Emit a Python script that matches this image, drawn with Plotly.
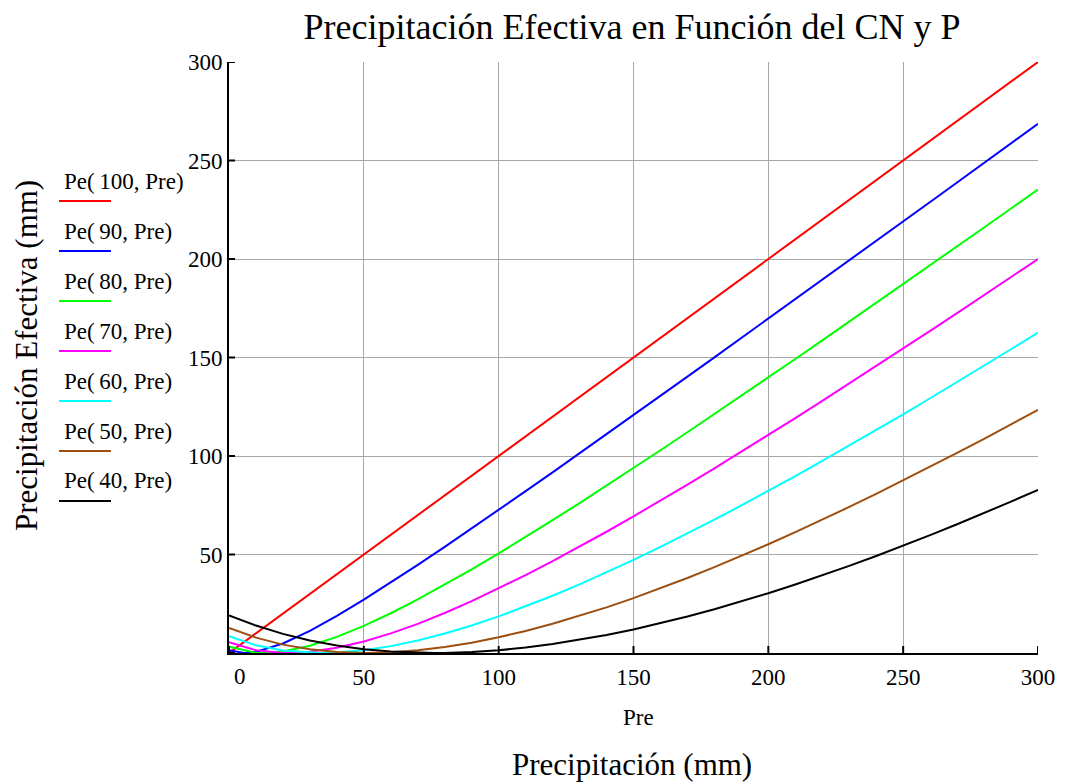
import plotly.graph_objects as go

# Precipitation (mm) sample points shared by every curve
precip = [0, 10, 20, 30, 40, 50, 60, 70, 80, 90, 100, 110, 120, 130, 140, 150,
          160, 170, 180, 190, 200, 210, 220, 230, 240, 250, 260, 270, 280, 290, 300]

# Effective precipitation (mm) for each curve number
pe_cn100 = [0, 10, 20, 30, 40, 50, 60, 70, 80, 90, 100, 110, 120, 130, 140, 150,
            160, 170, 180, 190, 200, 210, 220, 230, 240, 250, 260, 270, 280, 290, 300]
pe_cn90 = [1.41, 0.58, 4.84, 11.28, 18.86, 27.11, 35.78, 44.74, 53.90, 63.21, 72.63,
           82.14, 91.72, 101.35, 111.03, 120.75, 130.50, 140.27, 150.07, 159.88, 169.71,
           179.56, 189.42, 199.29, 209.17, 219.06, 228.95, 238.86, 248.77, 258.68, 268.60]
pe_cn80 = [3.18, 0.12, 0.75, 3.70, 8.21, 13.80, 20.19, 27.18, 34.63, 42.44, 50.54,
           58.88, 67.41, 76.10, 84.93, 93.88, 102.93, 112.06, 121.27, 130.55, 139.88,
           149.26, 158.69, 168.16, 177.67, 187.21, 196.77, 206.37, 215.99, 225.63, 235.30]
pe_cn70 = [5.44, 1.43, 0.03, 0.58, 2.62, 5.81, 9.94, 14.81, 20.29, 26.29, 32.71,
           39.50, 46.59, 53.96, 61.55, 69.35, 77.33, 85.47, 93.74, 102.14, 110.65,
           119.26, 127.96, 136.74, 145.60, 154.53, 163.51, 172.56, 181.65, 190.80, 199.98]
pe_cn60 = [8.47, 3.92, 1.24, 0.09, 0.21, 1.40, 3.49, 6.35, 9.88, 13.98, 18.57,
           23.61, 29.04, 34.81, 40.89, 47.25, 53.85, 60.67, 67.69, 74.90, 82.27,
           89.80, 97.47, 105.26, 113.17, 121.19, 129.31, 137.52, 145.81, 154.19, 162.65]
pe_cn50 = [12.70, 7.81, 4.25, 1.86, 0.48, 0.00, 0.32, 1.35, 3.01, 5.24, 7.98,
           11.19, 14.82, 18.83, 23.18, 27.86, 32.83, 38.07, 43.56, 49.28, 55.21,
           61.34, 67.65, 74.13, 80.77, 87.56, 94.48, 101.54, 108.72, 116.01, 123.41]
pe_cn40 = [19.05, 13.92, 9.72, 6.38, 3.80, 1.94, 0.72, 0.10, 0.04, 0.48, 1.40,
           2.75, 4.52, 6.66, 9.15, 11.98, 15.11, 18.53, 22.22, 26.17, 30.36,
           34.78, 39.40, 44.23, 49.25, 54.45, 59.81, 65.34, 71.02, 76.85, 82.82]

# Precipitation at which each curve touches zero (initial abstraction)
zero_at = {90: 5.64, 80: 12.7, 70: 21.77, 60: 33.87, 50: 50.8, 40: 76.2}

curve_numbers = [100, 90, 80, 70, 60, 50, 40]
series = [pe_cn100, pe_cn90, pe_cn80, pe_cn70, pe_cn60, pe_cn50, pe_cn40]
colors = ["#ff0000", "#0000ff", "#00ff00", "#ff00ff", "#00ffff", "#9c4f10", "#000000"]
legend_labels = ["Pe(\u2009100, Pre)", "Pe(\u200990, Pre)", "Pe(\u200980, Pre)",
                 "Pe(\u200970, Pre)", "Pe(\u200960, Pre)", "Pe(\u200950, Pre)",
                 "Pe(\u200940, Pre)"]

x_ticks = [0, 50, 100, 150, 200, 250, 300]
y_ticks = [0, 50, 100, 150, 200, 250, 300]

SERIF = "Times New Roman, Liberation Serif, serif"
TICK_SIZE = 23

# Plot-area geometry in pixels
W, H = 1067, 782
L, R, T, B = 229, 29, 62, 129
PW, PH = W - L - R, H - T - B


def px(xp):
    return (xp - L) / PW


def py(yp):
    return (H - B - yp) / PH


fig = go.Figure()

for cn, ys, col, lab in zip(curve_numbers, series, colors, legend_labels):
    xs, yv = list(precip), list(ys)
    if cn in zero_at:
        z = zero_at[cn]
        i = next(k for k, v in enumerate(xs) if v > z)
        xs.insert(i, z)
        yv.insert(i, 0.0)
    fig.add_trace(go.Scatter(x=xs, y=yv, mode="lines", name=lab,
                             line=dict(color=col, width=2), showlegend=False))

annotations = []
shapes = []

# Tick marks crossing both axes
for v in y_ticks:
    shapes.append(dict(type="line", xref="x", yref="y", xsizemode="pixel", xanchor=0,
                       x0=-6, x1=6, y0=v, y1=v, line=dict(color="black", width=2)))
for v in x_ticks:
    shapes.append(dict(type="line", xref="x", yref="y", ysizemode="pixel", yanchor=0,
                       y0=-7, y1=7, x0=v, x1=v, line=dict(color="black", width=2)))

# Legend drawn as label text above a short line sample
for k, (lab, col) in enumerate(zip(legend_labels, colors)):
    ly = 201 + 50 * k
    shapes.append(dict(type="line", xref="paper", yref="paper",
                       x0=px(59), x1=px(111), y0=py(ly), y1=py(ly),
                       line=dict(color=col, width=2)))
    annotations.append(dict(text=lab, xref="paper", yref="paper",
                            x=px(62), y=py(ly - 20), xanchor="left", yanchor="middle",
                            showarrow=False, font=dict(family=SERIF, size=23, color="black")))

# Origin label on the x axis
annotations.append(dict(text="0", xref="x", yref="paper", x=0, y=py(677),
                        xshift=11, xanchor="center", yanchor="middle", showarrow=False,
                        font=dict(family=SERIF, size=TICK_SIZE, color="black")))

# Axis captions
annotations.append(dict(text="Pre", xref="paper", yref="paper", x=px(638), y=py(717),
                        xanchor="center", yanchor="middle", showarrow=False,
                        font=dict(family=SERIF, size=23, color="black")))
annotations.append(dict(text="Precipitación (mm)", xref="paper", yref="paper",
                        x=px(632), y=py(764), xanchor="center", yanchor="middle",
                        showarrow=False, font=dict(family=SERIF, size=31, color="black")))
annotations.append(dict(text="Precipitación Efectiva (mm)", xref="paper", yref="paper",
                        x=px(26), y=py(356), textangle=-90, xanchor="center",
                        yanchor="middle", showarrow=False,
                        font=dict(family=SERIF, size=31, color="black")))

fig.update_layout(
    width=W, height=H,
    margin=dict(l=L, r=R, t=T, b=B),
    paper_bgcolor="white", plot_bgcolor="white",
    title=dict(text="Precipitación Efectiva en Función del CN y P",
               x=632 / W, y=1 - 26 / H, xref="container", yref="container",
               xanchor="center", yanchor="middle",
               font=dict(family=SERIF, size=36, color="black")),
    annotations=annotations,
    shapes=shapes,
)

fig.update_xaxes(range=[0, 300], tickvals=x_ticks,
                 ticktext=["" if v == 0 else str(v) for v in x_ticks],
                 showgrid=True, gridcolor="#a8a8a8", gridwidth=1, zeroline=False,
                 showline=True, linecolor="black", linewidth=2,
                 ticks="outside", ticklen=2, tickcolor="rgba(0,0,0,0)",
                 tickfont=dict(family=SERIF, size=TICK_SIZE, color="black"))
fig.update_yaxes(range=[0, 300], tickvals=y_ticks,
                 ticktext=["" if v == 0 else str(v) for v in y_ticks],
                 showgrid=True, gridcolor="#a8a8a8", gridwidth=1, zeroline=False,
                 showline=True, linecolor="black", linewidth=2,
                 ticks="outside", ticklen=0, tickcolor="rgba(0,0,0,0)",
                 tickfont=dict(family=SERIF, size=TICK_SIZE, color="black"))

fig.write_html("out.html")
